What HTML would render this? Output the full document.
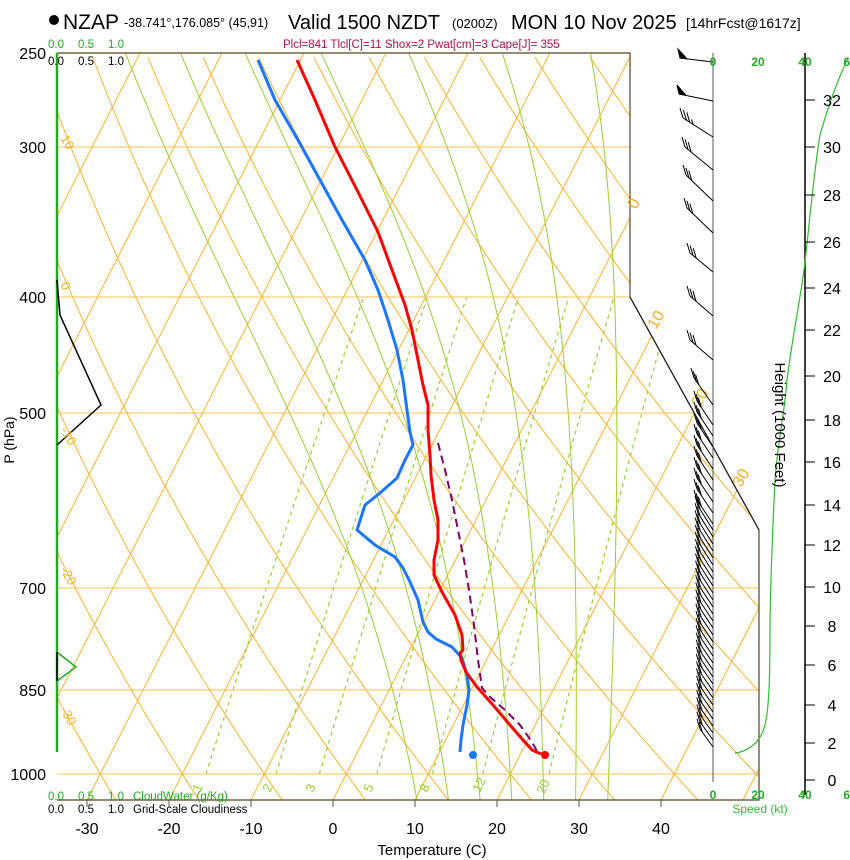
<!DOCTYPE html>
<html><head><meta charset="utf-8"><style>
html,body{margin:0;padding:0;background:#fff;width:850px;height:860px;overflow:hidden}
svg{display:block;font-family:"Liberation Sans",sans-serif}
</style></head><body>
<svg id="s" width="850" height="860" viewBox="0 0 850 860" xmlns="http://www.w3.org/2000/svg">
<defs><clipPath id="cp"><path d="M57,53 L630,53 L630,297 L759,530 L759,800 L57,800 Z"/></clipPath></defs>
<g id="grid" clip-path="url(#cp)"></g>
<g id="plines" stroke="#fbc24a" stroke-width="1">
<line x1="57" y1="147" x2="630" y2="147"/><line x1="57" y1="297" x2="630" y2="297"/>
<line x1="57" y1="413" x2="693" y2="413"/><line x1="57" y1="588" x2="759" y2="588"/>
<line x1="57" y1="690" x2="759" y2="690"/><line x1="57" y1="774" x2="759" y2="774"/>
</g>
<g id="prof"></g>
<path d="M57,53 L630,53 L630,297 L759,530 L759,800 L57,800" fill="none" stroke="#554422" stroke-width="1.2"/>
<line x1="630" y1="297" x2="759" y2="530" stroke="#222" stroke-width="1.2"/>
<line x1="57" y1="53" x2="57" y2="752" stroke="#22aa22" stroke-width="2.5"/>
<path d="M57,280 L60,315 L101,405 L57,445" fill="none" stroke="#000" stroke-width="1.5"/>
<path d="M57,652 L76,667 L57,681" fill="none" stroke="#22aa22" stroke-width="1.5"/>
<line x1="57" y1="652" x2="57" y2="681" stroke="#000" stroke-width="1.5"/>
<g stroke="#555" stroke-width="1">
<line x1="87" y1="800" x2="87" y2="807"/><line x1="169" y1="800" x2="169" y2="807"/><line x1="251" y1="800" x2="251" y2="807"/><line x1="333" y1="800" x2="333" y2="807"/><line x1="415" y1="800" x2="415" y2="807"/><line x1="497" y1="800" x2="497" y2="807"/><line x1="579" y1="800" x2="579" y2="807"/><line x1="661" y1="800" x2="661" y2="807"/>
</g>
<g font-size="16" text-anchor="middle" fill="#000">
<text x="87" y="834">-30</text><text x="169" y="834">-20</text><text x="251" y="834">-10</text><text x="333" y="834">0</text><text x="415" y="834">10</text><text x="497" y="834">20</text><text x="579" y="834">30</text><text x="661" y="834">40</text>
<text x="432" y="855" font-size="15">Temperature (C)</text>
</g>
<g font-size="16" text-anchor="end" fill="#000">
<text x="46" y="59">250</text><text x="46" y="153">300</text><text x="46" y="303">400</text><text x="46" y="419">500</text><text x="46" y="594">700</text><text x="46" y="696">850</text><text x="46" y="780">1000</text>
</g>
<text x="14" y="440" font-size="14" transform="rotate(-90 14 440)" text-anchor="middle">P (hPa)</text>
<circle cx="54" cy="20" r="5" fill="#000"/>
<text x="63" y="29" font-size="21">NZAP</text>
<text x="124" y="27" font-size="12.5">-38.741°,176.085° (45,91)</text>
<text x="288" y="29" font-size="20">Valid 1500 NZDT</text>
<text x="452" y="28" font-size="13">(0200Z)</text>
<text x="511" y="29" font-size="20">MON 10 Nov 2025</text>
<text x="686" y="28" font-size="14">[14hrFcst@1617z]</text>
<text x="283" y="48" font-size="11.5" fill="#b0104a">Plcl=841 Tlcl[C]=11 Shox=2 Pwat[cm]=3 Cape[J]= 355</text>
<g font-size="11.5" fill="#22aa22"><text x="48" y="48">0.0</text><text x="78" y="48">0.5</text><text x="108" y="48">1.0</text>
<text x="48" y="800">0.0</text><text x="78" y="800">0.5</text><text x="108" y="800">1.0</text><text x="133" y="800">CloudWater (g/Kg)</text></g>
<g font-size="11.5" fill="#000"><text x="48" y="65">0.0</text><text x="78" y="65">0.5</text><text x="108" y="65">1.0</text>
<text x="48" y="813">0.0</text><text x="78" y="813">0.5</text><text x="108" y="813">1.0</text><text x="133" y="813">Grid-Scale Cloudiness</text></g>
<g font-size="16" fill="#f5b021">
<text transform="translate(636,210) rotate(-60)">0</text>
<text transform="translate(656,330) rotate(-60)">10</text>
<text transform="translate(700,408) rotate(-60)">20</text>
<text transform="translate(741,488) rotate(-60)">30</text>
</g>
<g font-size="13" fill="#f5b021">
<text transform="translate(60,138) rotate(60)">10</text>
<text transform="translate(60,285) rotate(60)">0</text>
<text transform="translate(60,430) rotate(60)">-10</text>
<text transform="translate(60,570) rotate(60)">-20</text>
<text transform="translate(60,710) rotate(60)">-30</text>
</g>
<g font-size="13" fill="#9acd32">
<text transform="translate(200,793) rotate(-65)">1</text>
<text transform="translate(270,793) rotate(-65)">2</text>
<text transform="translate(313,793) rotate(-65)">3</text>
<text transform="translate(371,793) rotate(-65)">5</text>
<text transform="translate(427,793) rotate(-65)">8</text>
<text transform="translate(480,793) rotate(-65)">12</text>
<text transform="translate(544,795) rotate(-65)">20</text>
</g>
<line x1="713" y1="53" x2="713" y2="782" stroke="#555" stroke-width="1"/>
<line x1="805" y1="53" x2="805" y2="795" stroke="#000" stroke-width="1.5"/>
<g id="barbs" stroke="#000" stroke-width="1" fill="#000"></g>
<path d="M735,753 C745,752 760,745 765,725 C770,705 770,660 770,620 C771,570 773,520 775,480 C778,440 785,410 787,380 C792,340 800,300 804,270 C810,220 814,170 820,135 C830,100 840,75 848,58" fill="none" stroke="#33bb33" stroke-width="1.2"/>
<g font-size="12" font-weight="bold" fill="#22aa22" text-anchor="middle">
<text x="713" y="66">0</text><text x="758" y="66">20</text><text x="805" y="66">40</text><text x="850" y="66">60</text>
<text x="713" y="799">0</text><text x="758" y="799">20</text><text x="805" y="799">40</text><text x="850" y="799">60</text>
</g>
<text x="760" y="813" font-size="12" fill="#33bb33" text-anchor="middle">Speed (kt)</text>
<g id="hticks" stroke="#000" stroke-width="1"></g>
<g font-size="16" fill="#000" text-anchor="middle">
<text x="832" y="106">32</text><text x="832" y="153">30</text><text x="832" y="201">28</text><text x="832" y="248">26</text><text x="832" y="294">24</text><text x="832" y="336">22</text><text x="832" y="382">20</text><text x="832" y="426">18</text><text x="832" y="468">16</text><text x="832" y="511">14</text><text x="832" y="551">12</text><text x="832" y="593">10</text><text x="832" y="632">8</text><text x="832" y="671">6</text><text x="832" y="711">4</text><text x="832" y="749">2</text><text x="832" y="786">0</text>
</g>
<text x="0" y="0" font-size="15" transform="translate(775,425) rotate(90)" text-anchor="middle">Height (1000 Feet)</text>
</svg>
<script>
(function(){
var NS="http://www.w3.org/2000/svg";
function Y(p){return 774+520*Math.log(p/1000);}
function X(T,y){return 333+8.2*T+0.51*(800-y);}
function path(g,d,attrs){var e=document.createElementNS(NS,"path");e.setAttribute("d",d);e.setAttribute("fill","none");for(var k in attrs)e.setAttribute(k,attrs[k]);g.appendChild(e);return e;}
var grid=document.getElementById("grid");
for(var T=-120;T<=50;T+=10){path(grid,"M"+X(T,800)+",800 L"+X(T,53)+",53",{stroke:"#fbb32a","stroke-width":"1"});}
for(var th=-40;th<=130;th+=10){var d="";for(var p=1052;p>=245;p-=8){var t=(th+273.15)*Math.pow(p/1000,0.286)-273.15;var y=Y(p);d+=(d?" L":"M")+X(t,y).toFixed(1)+","+y.toFixed(1);}path(grid,d,{stroke:"#fbb32a","stroke-width":"1"});}
function es(tc){return 6.112*Math.exp(17.67*tc/(tc+243.5));}
function dTdlnp(T,p){var tc=T-273.15;var e=es(tc);var rs=0.622*e/(p-e);return (287*T+2.5e6*rs)/(1004+2.5e6*2.5e6*rs*0.622/(287*T*T));}
for(var tw=8;tw<=32;tw+=4){var T0=tw+273.15;var pts=[];var T=T0,lp=Math.log(1000),h=-0.01;
 while(Math.exp(lp)>245){var p=Math.exp(lp);pts.push([T,p]);var k1=dTdlnp(T,p);var k2=dTdlnp(T+h*k1/2,Math.exp(lp+h/2));T+=h*k2;lp+=h;}
 var T2=T0,lp2=Math.log(1000),pre=[];while(Math.exp(lp2)<1055){lp2+=0.01;T2+=0.01*dTdlnp(T2,Math.exp(lp2));pre.unshift([T2,Math.exp(lp2)]);}
 pts=pre.concat(pts);var d="";pts.forEach(function(q){var y=Y(q[1]);d+=(d?" L":"M")+X(q[0]-273.15,y).toFixed(1)+","+y.toFixed(1);});
 path(grid,d,{stroke:"#9acd32","stroke-width":"1"});}
[1,2,3,5,8,12,20].forEach(function(w){var d="";for(var p=1000;p>=400;p-=10){var e=w*p/(622+w);var l=Math.log(e/6.112);var td=243.5*l/(17.67-l);var y=Y(p);d+=(d?" L":"M")+X(td,y).toFixed(1)+","+y.toFixed(1);}path(grid,d,{stroke:"#9acd32","stroke-width":"1.2","stroke-dasharray":"4,4"});});
var prof=document.getElementById("prof");
function pl(a){return "M"+a.map(function(q){return q[0]+","+q[1];}).join(" L");}
path(prof,pl([[438,443],[445,470],[452,500],[458,530],[464,560],[469,590],[474,625],[478,660],[482,688],[490,697],[505,710],[520,725],[532,742],[538,753]]),{stroke:"#800060","stroke-width":"2","stroke-dasharray":"8,5"});
path(prof,pl([[258,60],[275,100],[298,140],[320,180],[342,220],[365,260],[378,290],[388,320],[397,350],[403,380],[407,410],[410,432],[413,445],[405,460],[397,478],[380,493],[365,505],[357,530],[375,545],[395,557],[403,568],[410,582],[418,600],[423,622],[428,632],[436,639],[452,647],[462,658],[467,675],[469,690],[467,705],[463,725],[461,740],[460,752]]),{stroke:"#1a75ff","stroke-width":"3","stroke-linejoin":"round"});
path(prof,pl([[297,60],[315,100],[335,147],[357,190],[378,232],[392,270],[405,305],[412,330],[418,360],[423,385],[428,405],[428,430],[430,455],[431,475],[434,500],[438,520],[438,540],[434,560],[434,575],[442,592],[455,615],[462,635],[463,650],[460,653],[461,660],[466,672],[477,687],[493,705],[510,725],[523,740],[532,750],[541,754]]),{stroke:"#ff0000","stroke-width":"3","stroke-linejoin":"round"});
var c1=document.createElementNS(NS,"circle");c1.setAttribute("cx","473");c1.setAttribute("cy","755");c1.setAttribute("r","4");c1.setAttribute("fill","#1a75ff");prof.appendChild(c1);
var c2=document.createElementNS(NS,"circle");c2.setAttribute("cx","545");c2.setAttribute("cy","755");c2.setAttribute("r","4");c2.setAttribute("fill","#ff0000");prof.appendChild(c2);
var ht=document.getElementById("hticks");[100,147,195,242,288,330,376,420,462,505,545,587,626,665,705,743,780].forEach(function(y){path(ht,"M805,"+y+" L815,"+y,{stroke:"#000"});});
var b=document.getElementById("barbs");
function barb(y,ex,ey,nf,pen){ex=+ex;ey=+ey;path(b,"M713,"+y+" L"+ex.toFixed(1)+","+ey.toFixed(1),{stroke:"#000"});var dx=713-ex,dy=y-ey,L=Math.sqrt(dx*dx+dy*dy);var ux=dx/L,uy=dy/L;
 if(pen){var e=document.createElementNS(NS,"path");e.setAttribute("d","M"+ex+","+ey+" L"+(ex-2)+","+(ey-9)+" L"+(ex+7*ux).toFixed(1)+","+(ey+7*uy).toFixed(1)+"Z");e.setAttribute("fill","#000");b.appendChild(e);return;}
 for(var i=0;i<nf;i++){var sx=ex+ux*i*4,sy=ey+uy*i*4;var fx=sx-3,fy=sy-10;if(i==nf-1&&nf>3){fx=sx-1.5;fy=sy-5;}path(b,"M"+sx.toFixed(1)+","+sy.toFixed(1)+" L"+fx.toFixed(1)+","+fy.toFixed(1),{stroke:"#000"});}}
barb(62,680,58,0,true);barb(101,679,94,0,true);
barb(137,683,118,4);barb(170,685,147,3);barb(201,686,175,3);barb(233,687,208,3);
barb(272,690,253,3);barb(316,690,296,3);barb(360,690,340,3);barb(405,694,378,3);
for(var y=425;y<530;y+=11){barb(y,697,y-24,3);}
for(var y=530;y<=752;y+=7){var t=(y-530)/222;barb(y,698+t*2,y-24+t*6,2);}
})();
</script>
</body></html>
